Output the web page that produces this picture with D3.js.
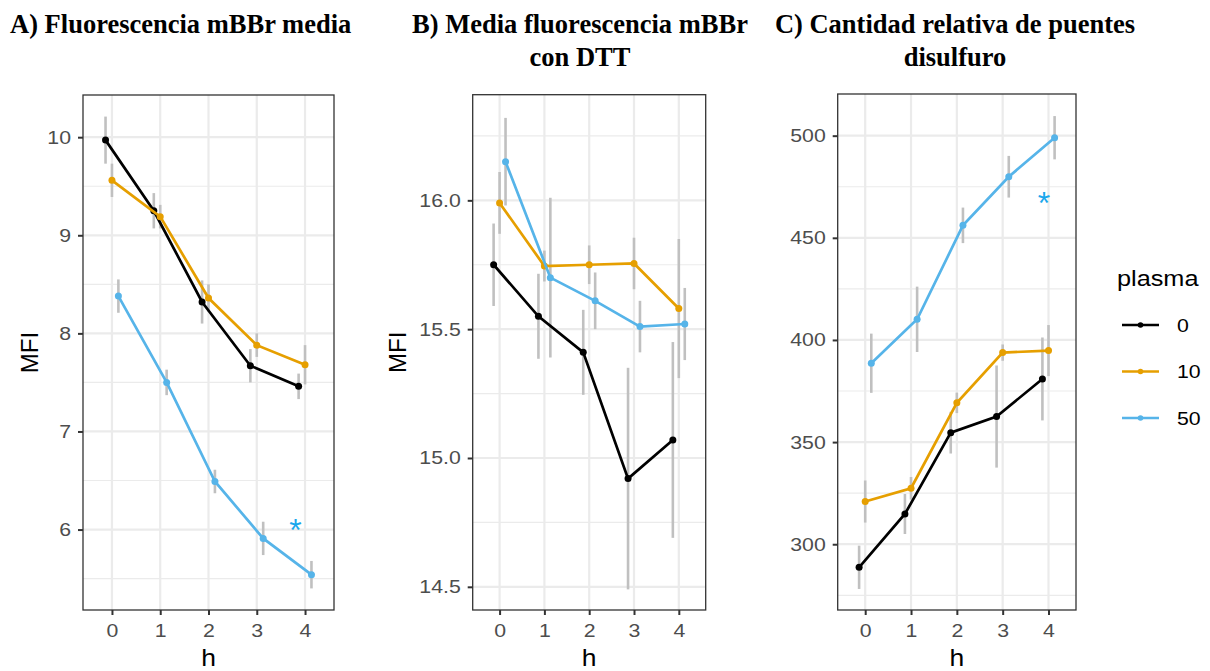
<!DOCTYPE html>
<html>
<head>
<meta charset="utf-8">
<script src="https://cdn.jsdelivr.net/npm/d3@7"></script>
<style>
  body { margin: 0; background: #fff; }
  svg { display: block; }
</style>
</head>
<body>
<div id="chart"></div>
<script>
const HOURS = [0, 1, 2, 3, 4];
const PLASMA = ['0', '10', '50'];
const COLORS = ['#000000', '#E69F00', '#56B4E9'];
const DODGE = [-0.133, 0, 0.133];

// A) media mBBr
const meanA = [
  [9.97, 9.25, 8.32, 7.67, 7.46],
  [9.56, 9.19, 8.36, 7.88, 7.68],
  [8.38, 7.50, 6.49, 5.91, 5.54]
];
const errA = [
  [0.24, 0.18, 0.22, 0.17, 0.13],
  [0.17, 0.12, 0.14, 0.12, 0.20],
  [0.17, 0.13, 0.12, 0.17, 0.14]
];
// B) con DTT
const meanB = [
  [15.75, 15.55, 15.41, 14.92, 15.07],
  [15.99, 15.745, 15.75, 15.755, 15.58],
  [16.15, 15.70, 15.61, 15.51, 15.52]
];
const errB = [
  [0.16, 0.165, 0.165, 0.43, 0.38],
  [0.12, 0.06, 0.075, 0.10, 0.27],
  [0.17, 0.31, 0.11, 0.10, 0.14]
];
// C) puentes disulfuro
const meanC = [
  [288.7, 314.8, 354.6, 362.5, 380.9],
  [320.9, 327.4, 369.2, 393.8, 394.8],
  [388.6, 410.1, 456.1, 479.9, 499.0]
];
const errC = [
  [10.6, 9.8, 10.2, 25, 20.3],
  [10.3, 5.5, 5, 4, 12.5],
  [14.5, 16, 8.7, 10.2, 10.6]
];

const ticksA = [6, 7, 8, 9, 10];
const ticksB = [14.5, 15.0, 15.5, 16.0];
const ticksC = [300, 350, 400, 450, 500];

const W = 1210, H = 671;
const SX = 1.15; // the original export is a bit wider than tall
const svg = d3.select('#chart').append('svg')
  .attr('width', W).attr('height', H)
  .style('font-family', '"Liberation Sans", Arial, sans-serif');

// widen text horizontally, keeping its anchor point
function stretch(sel) {
  sel.each(function () {
    const t = d3.select(this);
    const x = +t.attr('x') || 0;
    t.attr('x', x / SX).attr('transform', `scale(${SX},1)`);
  });
}

function drawPanel(p) {
  const x = d3.scaleLinear().domain([-0.6, 4.6]).range([p.left, p.right]);
  const y = d3.scaleLinear().domain(p.ydom).range([p.bottom, p.top]);
  const g = svg.append('g');

  // minor grid (half steps between major ticks)
  const step = p.ticks[1] - p.ticks[0];
  const minors = d3.range(p.ticks[0] - step / 2, p.ydom[1], step)
    .filter(v => v > p.ydom[0] && v < p.ydom[1]);
  g.selectAll('.minor').data(minors).enter().append('line')
    .attr('x1', p.left).attr('x2', p.right)
    .attr('y1', d => y(d)).attr('y2', d => y(d))
    .attr('stroke', '#EBEBEB').attr('stroke-width', 1.2);
  g.selectAll('.majy').data(p.ticks).enter().append('line')
    .attr('x1', p.left).attr('x2', p.right)
    .attr('y1', d => y(d)).attr('y2', d => y(d))
    .attr('stroke', '#EBEBEB').attr('stroke-width', 2.2);
  g.selectAll('.majx').data(HOURS).enter().append('line')
    .attr('y1', p.top).attr('y2', p.bottom)
    .attr('x1', d => x(d)).attr('x2', d => x(d))
    .attr('stroke', '#EBEBEB').attr('stroke-width', 2.2);

  // error bars
  p.mean.forEach((s, i) => {
    g.selectAll('.eb' + i).data(HOURS).enter().append('line')
      .attr('x1', d => x(d + DODGE[i])).attr('x2', d => x(d + DODGE[i]))
      .attr('y1', (d, j) => y(s[j] - p.err[i][j]))
      .attr('y2', (d, j) => y(s[j] + p.err[i][j]))
      .attr('stroke', '#C0C0C0').attr('stroke-width', 2.6);
  });

  // lines + points
  p.mean.forEach((s, i) => {
    const line = d3.line().x((d, j) => x(HOURS[j] + DODGE[i])).y(d => y(d));
    g.append('path').datum(s).attr('d', line)
      .attr('fill', 'none').attr('stroke', COLORS[i]).attr('stroke-width', 2.7);
    g.selectAll('.pt' + i).data(s).enter().append('circle')
      .attr('cx', (d, j) => x(HOURS[j] + DODGE[i])).attr('cy', d => y(d))
      .attr('r', 3.5).attr('fill', COLORS[i]);
  });

  // asterisk
  if (p.star) {
    g.append('text').attr('x', x(p.star[0])).attr('y', y(p.star[1]) + 15)
      .attr('text-anchor', 'middle').attr('fill', '#1AA7EC')
      .attr('font-size', 32).text('*');
  }

  // border
  g.append('rect').attr('x', p.left).attr('y', p.top)
    .attr('width', p.right - p.left).attr('height', p.bottom - p.top)
    .attr('fill', 'none').attr('stroke', '#333').attr('stroke-width', 1.3);

  // axes
  const ax = g.append('g').attr('transform', `translate(0,${p.bottom})`)
    .call(d3.axisBottom(x).tickValues(HOURS).tickSize(5).tickPadding(9).tickFormat(d3.format('d')));
  const ay = g.append('g').attr('transform', `translate(${p.left},0)`)
    .call(d3.axisLeft(y).tickValues(p.ticks).tickSize(5).tickPadding(7).tickFormat(p.fmt));
  [ax, ay].forEach(a => {
    a.select('.domain').remove();
    a.selectAll('line').attr('stroke', '#333').attr('stroke-width', 2);
    a.selectAll('text').attr('fill', '#4D4D4D').attr('font-size', 18.5)
      .style('font-family', '"Liberation Sans", Arial, sans-serif')
      .call(stretch);
  });

  g.append('text').attr('x', (p.left + p.right) / 2).attr('y', 666)
    .attr('text-anchor', 'middle').attr('font-size', 23).text('h').call(stretch);
  if (p.ylab) {
    g.append('text').attr('transform', `translate(${p.ylabX},${(p.top + p.bottom) / 2}) rotate(-90)`)
      .attr('text-anchor', 'middle').attr('font-size', 24).text(p.ylab);
  }

  // title
  const t = svg.append('text').attr('font-family', '"Liberation Serif", "Times New Roman", serif')
    .attr('font-weight', 'bold').attr('font-size', 26.5)
    .attr('text-anchor', p.titleAnchor).attr('fill', '#000');
  p.title.forEach((s, k) => {
    t.append('tspan').attr('x', p.titleX).attr('y', 33 + k * 33).text(s);
  });
}

drawPanel({
  left: 83, right: 334, top: 95, bottom: 610, ydom: [5.18, 10.43],
  mean: meanA, err: errA, ticks: ticksA, fmt: d3.format('d'),
  star: [3.8, 6.04], ylab: 'MFI', ylabX: 38,
  title: ['A) Fluorescencia mBBr media'], titleX: 10, titleAnchor: 'start'
});
drawPanel({
  left: 472.7, right: 705.7, top: 94.7, bottom: 610, ydom: [14.41, 16.41],
  mean: meanB, err: errB, ticks: ticksB, fmt: d3.format('.1f'),
  star: null, ylab: 'MFI', ylabX: 406,
  title: ['B) Media fluorescencia mBBr', 'con DTT'], titleX: 580, titleAnchor: 'middle'
});
drawPanel({
  left: 837.7, right: 1076, top: 94, bottom: 610, ydom: [267.8, 520.4],
  mean: meanC, err: errC, ticks: ticksC, fmt: d3.format('d'),
  star: [3.9, 469], ylab: null,
  title: ['C) Cantidad relativa de puentes', 'disulfuro'], titleX: 955, titleAnchor: 'middle'
});

// legend
const leg = svg.append('g');
leg.append('text').attr('x', 1117).attr('y', 286).attr('font-size', 22).text('plasma').call(stretch);
const legY = d3.scalePoint().domain(PLASMA).range([325, 418]);
PLASMA.forEach((lv, i) => {
  leg.append('line').attr('x1', 1122).attr('x2', 1159)
    .attr('y1', legY(lv)).attr('y2', legY(lv))
    .attr('stroke', COLORS[i]).attr('stroke-width', 2.6);
  leg.append('circle').attr('cx', 1140.5).attr('cy', legY(lv)).attr('r', 2.8).attr('fill', COLORS[i]);
  leg.append('text').attr('x', 1177).attr('y', legY(lv) + 7)
    .attr('font-size', 18.5).text(lv).call(stretch);
});
</script>
</body>
</html>
